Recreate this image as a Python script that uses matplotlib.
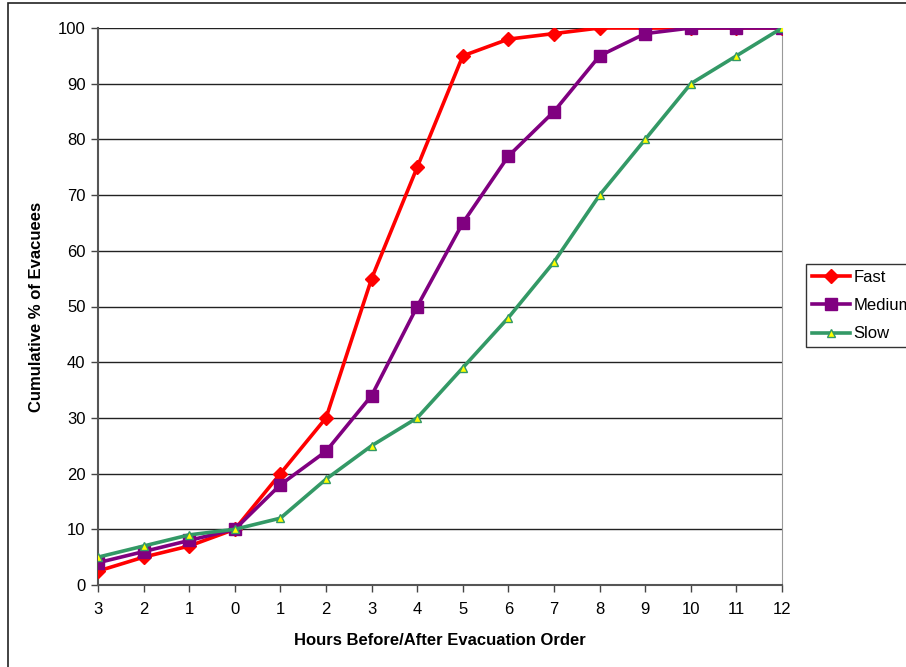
import matplotlib.pyplot as plt
from matplotlib.patches import Rectangle

plt.rcParams['font.family'] = ['Liberation Sans', 'DejaVu Sans']

# hours relative to the evacuation order (before 0, then after)
hours = ['3', '2', '1', '0', '1', '2', '3', '4', '5', '6', '7', '8', '9', '10', '11', '12']

fast = [2.5, 5, 7, 10, 20, 30, 55, 75, 95, 98, 99, 100, 100, 100, 100, 100]
medium = [4, 6, 8, 10, 18, 24, 34, 50, 65, 77, 85, 95, 99, 100, 100, 100]
slow = [5, 7, 9, 10, 12, 19, 25, 30, 39, 48, 58, 70, 80, 90, 95, 100]

x = range(len(hours))

fig = plt.figure(figsize=(9.06, 6.67), dpi=100)
ax = fig.add_axes([98 / 906, 82 / 667, 684 / 906, 557 / 667])

# outer chart frame
fig.patches.append(Rectangle((8 / 906, -0.1), 1.2, 1.1 - 3 / 667,
                             transform=fig.transFigure, fill=False,
                             edgecolor='#222222', linewidth=1.2, zorder=0))

ax.plot(x, fast, color='#ff0000', linewidth=2.6, marker='D', markersize=7,
        markerfacecolor='#ff0000', markeredgecolor='#ff0000', label='Fast', zorder=3)
ax.plot(x, medium, color='#800080', linewidth=2.6, marker='s', markersize=8,
        markerfacecolor='#800080', markeredgecolor='#800080', label='Medium', zorder=4)
ax.plot(x, slow, color='#339966', linewidth=2.6, marker='^', markersize=5.5,
        markerfacecolor='#ffff00', markeredgecolor='#339966', markeredgewidth=1,
        label='Slow', zorder=5)

ax.set_xlim(0, len(hours) - 1)
ax.set_ylim(0, 100)
ax.set_xticks(list(x))
ax.set_xticklabels(hours)
ax.set_yticks(range(0, 101, 10))
ax.yaxis.grid(True, color='#222222', linewidth=1)
ax.set_axisbelow(True)

ax.tick_params(axis='both', direction='out', length=5, width=1, color='#444444',
               labelsize=12, labelcolor='black')
ax.tick_params(axis='x', pad=7)
ax.tick_params(axis='y', pad=4)

for side in ['left', 'bottom']:
    ax.spines[side].set_color('#555555')
    ax.spines[side].set_linewidth(1.5)
ax.spines['right'].set_color('#999999')
ax.spines['top'].set_visible(False)

ax.set_xlabel('Hours Before/After Evacuation Order', fontsize=12, fontweight='bold', labelpad=12)
ax.set_ylabel('Cumulative % of Evacuees', fontsize=12, fontweight='bold', labelpad=10)

leg = ax.legend(loc='upper left', bbox_to_anchor=(806 / 906, 403 / 667),
                bbox_transform=fig.transFigure, frameon=True, fancybox=False,
                edgecolor='black', fontsize=12, handlelength=2.3,
                borderpad=0.35, labelspacing=0.8, handletextpad=0.2, borderaxespad=0)
leg.get_frame().set_linewidth(1)

fig.savefig('out.png', dpi=100)
